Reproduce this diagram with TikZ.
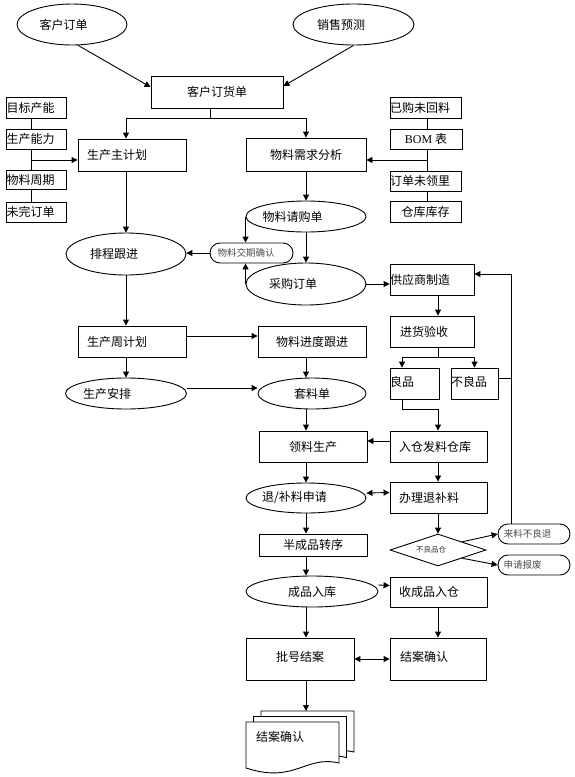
\documentclass[tikz,border=0pt]{standalone}
\usepackage{fontspec}
\setmainfont{Noto Sans CJK SC}
\newfontfamily\serifbom{Liberation Serif}
\usetikzlibrary{arrows.meta,shapes.geometric}
\newcommand\fs{\fontsize{12pt}{14pt}\selectfont}
\newcommand\fsm{\fontsize{9.5pt}{11pt}\selectfont}
\newcommand\fst{\fontsize{7.5pt}{9pt}\selectfont}
\newcommand\tx[2]{\makebox[0pt]{#2\hspace*{#1}}}
\tikzset{
  base/.style={draw, line width=0.9pt, font=\fs, inner sep=0pt, fill=white},
  box/.style={base, rectangle},
  ell/.style={base, ellipse},
  rnd/.style={base, rectangle, rounded corners=10pt, font=\fsm, text=black!70},
  arr/.style={->, line width=0.9pt},
  dbl/.style={<->, line width=0.9pt},
  ln/.style={line width=0.9pt},
  lpad/.style 2 args={text width=#1, inner xsep=#2, align=left},
}
\begin{document}
\begin{tikzpicture}[x=1pt,y=-1pt,>={Triangle[length=6pt,width=6pt]}]
\useasboundingbox (0,0) rectangle (575,777);
% top
\node[ell, minimum width=110pt, minimum height=41pt] (kh) at (72,24.5) {\tx{17pt}{客户订单}};
\node[ell, minimum width=121pt, minimum height=41pt] (xs) at (353.5,24.5) {\tx{25pt}{销售预测}};
\node[box, minimum width=132pt, minimum height=32pt] (kd) at (217,92) {客户订货单};
% left inputs
\node[box, minimum height=21pt, lpad={59pt}{0.5pt}] (mb) at (36,107.5) {目标产能};
\node[box, minimum height=20pt, lpad={59pt}{0.5pt}] (nl) at (36,139) {生产能力};
\node[box, minimum height=19pt, lpad={59pt}{0.5pt}] (wz) at (36,180) {物料周期};
\node[box, minimum height=20pt, lpad={59pt}{0.5pt}] (wd) at (36,212) {未完订单};
\node[box, minimum height=32pt, lpad={90pt}{9pt}] (zjh) at (132,155) {生产主计划};
\node[box, minimum width=120pt, minimum height=33pt] (xq) at (306,154.5) {物料需求分析};
% right inputs
\node[box, minimum height=21pt, lpad={71pt}{0pt}] (yg) at (425.5,107.5) {已购未回料};
\node[box, minimum width=72pt, minimum height=20pt] (bom) at (426,139) {{\serifbom BOM} 表};
\node[box, minimum height=20pt, lpad={71pt}{0pt}] (dl) at (425.5,181) {订单未领里};
\node[box, minimum width=71pt, minimum height=21pt] (kc) at (425.5,211.5) {仓库库存};
% middle
\node[ell, minimum width=120pt, minimum height=31pt] (qg) at (306,216.5) {\tx{27pt}{物料请购单}};
\node[ell, minimum width=120pt, minimum height=42pt] (pc) at (126,254) {\tx{24pt}{排程跟进}};
\node[rnd, minimum width=83pt, minimum height=20pt] (jq) at (251.5,253) {\tx{11pt}{物料交期确认}};
\node[ell, minimum width=120pt, minimum height=42pt] (cg) at (306,284) {\tx{26pt}{采购订单}};
\node[box, minimum height=31pt, lpad={84pt}{0pt}] (gy) at (432,279.5) {供应商制造};
\node[box, minimum height=31pt, lpad={64pt}{10pt}] (jh) at (432,331.5) {进货验收};
\node[box, minimum height=31pt, lpad={49pt}{0pt}] (lp) at (414.5,383.5) {\raisebox{4pt}{良品}};
\node[box, minimum height=31pt, lpad={47pt}{0pt}] (blp) at (474.5,383.5) {\raisebox{4pt}{不良品}};
\node[box, minimum height=31pt, lpad={90pt}{9pt}] (zz) at (132,341.5) {生产周计划};
\node[box, minimum width=108pt, minimum height=31pt] (jd) at (312,341.5) {物料进度跟进};
\node[ell, minimum width=121pt, minimum height=31pt] (ap) at (126,393.5) {\tx{38pt}{生产安排}};
\node[ell, minimum width=108pt, minimum height=31pt] (tl) at (312,393.5) {套料单};
\node[box, minimum width=108pt, minimum height=31pt] (ll) at (313,446.5) {领料生产};
\node[box, minimum height=31pt, lpad={79pt}{9pt}] (rc) at (438.5,446.5) {入仓发料仓库};
\node[ell, minimum width=120pt, minimum height=30pt] (tb) at (306,498) {\tx{23pt}{退/补料申请}};
\node[box, minimum height=31pt, lpad={79pt}{9pt}] (bl) at (438.5,497.5) {办理退补料};
\node[box, minimum width=108pt, minimum height=22pt] (bz) at (313,545) {半成品转序};
\node[base, diamond, minimum width=96pt, minimum height=32pt, font=\fst, text=black!80] (dm) at (438,550) {\tx{14pt}{不良品仓}};
\node[rnd, minimum width=72pt, minimum height=20pt] (lb) at (534,534) {\tx{13pt}{来料不良退}};
\node[rnd, minimum width=72pt, minimum height=20pt] (sb) at (534,565) {\tx{23pt}{申请报废}};
\node[ell, minimum width=132pt, minimum height=31pt] (cr) at (312,591.5) {成品入库};
\node[box, minimum height=30pt, lpad={79pt}{9pt}] (sr) at (438.5,592) {收成品入仓};
\node[box, minimum width=108pt, minimum height=42pt] (ph) at (300,659) {\raisebox{5pt}{批号结案}};
\node[box, minimum height=42pt, lpad={76pt}{10pt}] (ja) at (438,659) {\raisebox{5pt}{结案确认}};
% multi-document
\foreach \dx/\dy in {15/-11,7.5/-5.5,0/0}
  \draw[ln, fill=white, shift={(\dx,\dy)}] (246,722) -- (339,722) -- (339,763)
     .. controls (305,755) and (295,784) .. (246,768) -- cycle;
\node[font=\fs, anchor=west, inner sep=0pt] (doc) at (256,737) {结案确认};
\coordinate (dtop) at (306,711);
% helper coordinates
\coordinate (cx) at (306,0);
\coordinate (rx) at (438,0);
\coordinate (j1) at (210,118);
\coordinate (lx) at (31,160);
\coordinate (rxi) at (427,160);
\coordinate (j2) at (438,357);
\coordinate (vx) at (511,274);
\coordinate (bq) at ([yshift=5.5pt]blp.east);
% connectors
\draw[arr] (kh.-74) -- ([yshift=5pt]kd.west);
\draw[arr] (xs.south) -- ([yshift=6pt]kd.east);
\draw[ln] (kd.south -| j1) -- (j1);
\draw[arr] (j1) -| (zjh.north -| pc.north);
\draw[arr] (j1) -| (xq.north);
\draw[ln] (mb.south -| lx) -- (nl.north -| lx) (nl.south -| lx) -- (wz.north -| lx) (wz.south -| lx) -- (wd.north -| lx);
\draw[arr] (lx) -- (lx -| zjh.west);
\draw[ln] (yg.south -| rxi) -- (bom.north -| rxi) (bom.south -| rxi) -- (dl.north -| rxi) (dl.south -| rxi) -- (kc.north -| rxi);
\draw[arr] (rxi) -- (rxi -| xq.east);
\draw[arr] (xq.south) -- (qg.north);
\draw[arr] (qg.south) -- (cg.north);
\draw[arr] (qg.west) -- (qg.west |- jq.north);
\draw[arr] (cg.west) -- (cg.west |- jq.south);
\draw[arr] (jq.west) -- (jq.west -| pc.east);
\draw[arr] (zjh.south -| pc.north) -- (pc.north);
\draw[arr] (pc.south) -- (pc.south |- zz.north);
\draw[arr] ([yshift=5.5pt]zz.east) -- ([yshift=5.5pt]jd.west);
\draw[arr] (zz.south -| ap.north) -- (ap.north);
\draw[arr] ([yshift=5.5pt]ap.east) -- ([yshift=5.5pt]tl.west);
\draw[arr] (jd.south -| cx) -- (tl.north -| cx);
\draw[arr] (tl.south -| cx) -- (ll.north -| cx);
\draw[arr] (cg.east) -- ([yshift=-4.5pt]gy.west);
\draw[arr] (gy.south -| rx) -- (jh.north -| rx);
\draw[ln] (jh.south -| j2) -- (j2);
\draw[arr] (j2) -| ([xshift=-12.5pt]lp.north);
\draw[arr] (j2) -| (blp.north);
\draw[ln] (bq) -- (bq -| vx);
\draw[arr] (lb.north -| vx) -- (vx) -- ([yshift=5.5pt]gy.east);
\draw[arr] ([xshift=-12.5pt]lp.south) -- ++(0,10) -| (rc.north -| rx);
\draw[arr] ([yshift=5.5pt]rc.west) -- ([yshift=5.5pt]ll.east);
\draw[arr] (ll.south -| cx) -- (tb.north);
\draw[arr] (rc.south -| rx) -- (bl.north -| rx);
\draw[dbl] ([yshift=5pt]tb.east) -- ([yshift=5pt]bl.west);
\draw[arr] (tb.south) -- (bz.north -| cx);
\draw[arr] (bl.south -| rx) -- (dm.north);
\draw[arr] (dm.north east) -- (lb.west);
\draw[arr] (dm.south east) -- (sb.west);
\draw[arr] (bz.south -| cx) -- (cr.north -| cx);
\draw[arr] ([yshift=6.5pt]cr.east) -- ([yshift=6.5pt]sr.west);
\draw[arr] (cr.south -| cx) -- (ph.north -| cx);
\draw[arr] (sr.south -| rx) -- (ja.north -| rx);
\draw[dbl] (ph.east) -- (ja.west);
\draw[arr] (ph.south -| cx) -- (dtop);
\end{tikzpicture}
\end{document}
